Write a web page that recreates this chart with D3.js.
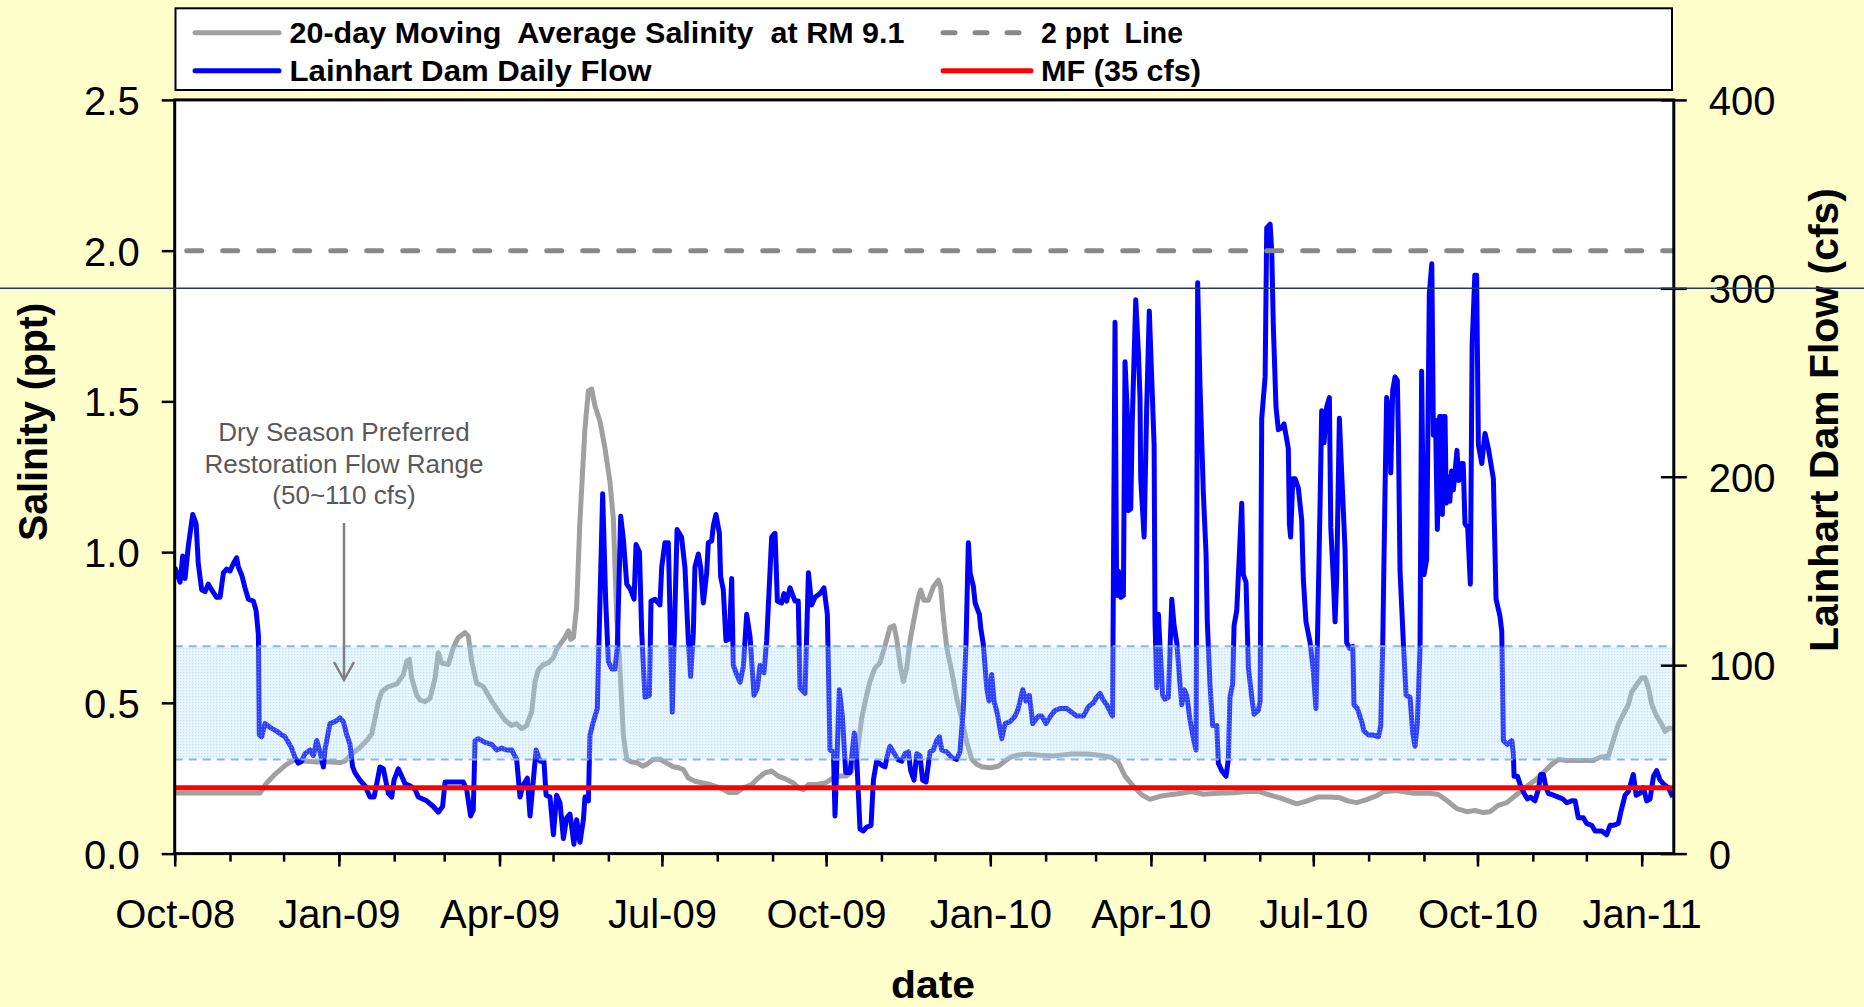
<!DOCTYPE html>
<html><head><meta charset="utf-8">
<script src="https://cdn.jsdelivr.net/npm/d3@7"></script>
<style>
html,body{margin:0;padding:0;background:#FFFFCC;}
svg{display:block;}
text{font-family:"Liberation Sans",Arial,Helvetica,sans-serif;}
</style></head><body>
<svg id="chart" width="1864" height="1007"></svg>
<script>
// ---------------- data (days counted from 1 Oct 2008) ----------------
const flowDays = [0,3,4.5,5.8,7.6,10.1,12,13.2,15.1,17,18.8,20.7,23.5,25.4,27.3,29.1,31,32.9,34.7,35.7,37.5,39.4,41.3,44.1,45.6,46.9,47.4,48.7,50.6,53.4,57.1,60,61.8,63.7,65.5,67.4,69.3,71.1,73,75.8,77.7,79.6,81.4,83.3,84.2,87,89.8,92.6,94.5,96.4,98.2,99.7,101,103.8,106.6,109.4,111.7,113.2,115,116.9,119.7,121.6,122.9,125.3,127.2,129.1,131.9,134.7,136.5,141.2,144.9,147.7,150.1,151.5,156.1,161.7,163.6,165.8,167.3,168.3,170.1,173.9,177.6,180.4,183.2,186,188.8,191.6,193.5,195,197.6,199.1,202.5,204.7,206.9,208.1,210.3,212.2,214,215.9,217.8,219.6,221.5,223.7,225.2,227.1,229,229.9,231.8,232.7,234.6,236.8,238.3,239.8,241.5,243,244.9,246.7,248,249.9,251.4,253.3,255.5,257.4,258.5,260.4,261.7,263.5,266,266.9,269.1,271.9,272.9,274.7,276.6,278.8,281.5,284,285.9,287.8,289.1,290.6,291.5,293.4,294.7,296.2,298.1,299,300.9,301.8,303.3,305.2,305.9,307.4,308.9,310.8,312.1,313,314.9,316.8,318.6,320.5,322.4,324.6,326.5,328,330.2,331.7,334.5,336.4,337.7,340.1,341.4,342.9,344.8,347.6,349.4,350.4,353.2,355.1,356.9,358.8,361.6,363.8,365.7,367.2,369.1,370,372.4,374.1,376,378.4,380.8,382.1,384,385.9,387.7,390.2,391.5,393.3,396.1,398,399.3,400.8,402.7,405.1,407.4,409.2,411.1,412.4,414.3,415.8,417.6,419.1,421,423.2,425.1,427,428.5,429.8,432.6,435.4,438.2,440,441.9,443.4,444.7,445.7,447.5,448.5,450.9,451.6,453.1,455,456.3,457.8,459.1,461,463.4,465.3,468.1,470.9,472.7,475.2,477,478.9,480.8,484,485.8,488.2,490.8,493.3,496.1,499.8,502.6,505.4,509.2,512,514.8,516.6,518.5,520,522.2,525.5,526.9,527.8,528.8,530.1,531.6,532.5,533.8,534.4,535.7,536.6,538.5,540,540.9,541.3,543.2,544.6,546.1,547.5,548.8,549.3,550.3,551.2,552.1,553.6,554.9,556.8,558.7,560,561.5,563.3,564.3,565.6,567.1,568.9,570.8,572.3,573.2,574.5,576.4,577.9,578.6,580.1,581.6,583.9,584.8,586.7,589.1,590.4,591.3,592.8,593.6,595.1,597.9,598.8,600.3,601.6,603.5,604.8,607.2,608.2,609.1,611,611.9,613.8,614.7,615.6,617.1,618.4,620.3,621.6,622.7,624,624.6,625.3,626.5,627.8,629.6,631.5,632.4,633.9,636.2,638,639.5,640.3,641.8,642.7,644,645.5,647,647.8,649.2,650.2,651.1,652.6,653.9,655.8,656.7,658.2,660.1,660.8,662.7,665.1,666.4,668.9,671.3,674.5,675.8,676.9,678.2,679.1,680.6,681.4,682.5,683.8,685.1,685.7,686.6,688.5,690,692.2,693.7,695,696.3,697.8,698.7,700,701.5,703,704.4,705.3,706.5,707.5,708.8,709.5,710.3,711,711.8,712.5,713.5,714.5,715.5,716.5,718.5,719.5,721,722,723,724.5,726,727,728.5,729.5,730.5,732.4,734.2,736.1,738.9,740.4,742.6,743.6,744.5,746.8,749.2,750.1,750.5,752.4,753.8,756.1,758,759.8,762.2,764.1,765.4,766.9,768.4,769.7,772.5,775.3,777.8,780,782.8,784.7,786.5,789.3,791.2,794,795.9,799.6,802.4,804.3,806.2,808.9,810.3,812.7,814.6,817.3,818.9,821.1,823,824.8,826.7,828.6,830.4,832.3,834.2,837,839.4];
const flowCfs = [152,144,158,146,163,180,175,154,140,139,143,140,136,136,149,151,150,154,157,152,148,141,135,134,129,116,63,62,69,67,65,63,62,59,56,51,48,49,53,55,52,60,54,46,55,69,70,72,70,63,58,46,43,39,36,30,30,37,46,45,32,30,39,45,41,37,36,34,30,28,25,22,25,38,38,38,34,20,23,60,61,59,58,55,56,55,55,50,30,36,40,20,55,49,49,31,30,10,31,27,8,19,21,5,18,6,18,30,28,63,70,77,134,191,134,102,98,98,109,179,167,143,140,135,164,160,117,83,84,134,135,132,152,165,165,75,172,168,152,113,94,117,152,159,152,133,149,165,166,174,180,170,147,140,113,114,146,100,95,91,99,127,115,84,88,100,96,113,168,170,134,133,138,134,141,134,134,88,85,149,132,136,138,141,127,55,54,20,87,73,43,43,64,52,13,12,14,15,39,49,47,46,52,57,54,50,49,53,54,44,39,53,52,39,38,54,55,60,62,55,54,51,50,54,77,111,165,149,142,133,127,120,111,88,81,95,81,74,61,69,70,73,77,87,81,84,69,73,73,69,73,76,77,77,75,73,73,78,80,83,85,82,79,73,282,137,150,136,137,261,233,182,183,231,294,266,242,199,168,235,288,251,217,123,88,127,110,84,82,83,135,121,112,90,79,87,84,71,61,55,303,249,191,159,123,90,68,68,48,44,41,50,83,90,121,129,186,148,144,99,83,74,76,81,231,253,332,334,320,280,237,225,226,228,222,215,175,168,199,199,194,177,146,123,112,97,77,112,186,235,218,237,242,173,146,123,146,231,202,161,112,109,110,79,77,70,65,63,63,62,68,111,193,242,235,202,246,253,251,220,150,111,84,83,64,57,69,109,256,148,156,297,313,222,230,172,232,232,180,232,232,186,200,187,203,193,214,198,207,207,175,173,143,270,307,307,217,207,223,215,199,135,126,118,60,58,60,53,41,41,37,32,29,30,28,34,42,42,35,32,31,30,29,27,28,28,19,19,16,15,12,12,10,15,15,16,22,31,33,42,31,32,35,28,29,41,44,39,37,35,30];

const salDays = [0,47.8,51.5,57.1,62.7,67.4,72.1,79.6,87,92.6,95.4,99.2,103.8,107.6,110.4,112.2,114.1,116,119.7,124.4,128.1,130,131.5,132.8,135.6,137.5,140.3,143.1,145.9,147.7,149.6,153.3,156.1,158.9,162.7,164.5,166.4,169.2,172.9,176.7,180.4,185.1,188.8,191.6,194.4,197.2,200,201.9,203.8,206.6,209.4,212.2,214,215.9,218.7,220.6,221.9,223.4,225.2,227.1,229.9,231.8,233.6,235.5,238.3,241.1,243.9,245.8,247.7,249.5,251.4,253.3,256.1,258.9,262.2,264.5,268.2,271.9,275.7,279.4,282.2,285,287.8,291.5,296.2,300,305.6,310.2,314.9,318.6,323.3,327,330.8,334.5,338.2,342.9,346.7,349.4,352.3,355.1,359.7,364.4,369,372.8,376.5,379.3,382.1,384.9,387.7,389.6,392.4,395.2,398,400.8,403,404.6,406.4,408.3,410.2,412,414.8,416.7,418,419.9,422.3,425.1,427.9,429.2,430.7,432.6,435.4,438.2,441,443.8,446.6,449.4,452.2,456.9,461.5,465.3,468.1,471.8,477.4,484.9,492.3,501.7,511,518.5,525,528.8,532.5,537.2,541.8,546.5,552.1,557.7,564.3,569.9,576.4,583.9,593.2,600.7,607.2,611.9,619.4,628.7,634.3,640.8,647.4,653,657.7,662.3,667.9,673.5,677.3,684.7,694.1,703.4,708.1,712.8,718.4,724,728.6,733.3,737,741.7,746.4,752,757.6,762.3,766.9,771.6,775.3,780,787.5,795,798.7,803.3,806.1,808.9,811.8,814.6,816.4,819.2,822,823.9,825.8,827.6,830.4,833.2,835.1,837,839.4];
const salPpt = [0.201,0.201,0.234,0.268,0.296,0.311,0.307,0.304,0.304,0.302,0.307,0.33,0.352,0.375,0.397,0.447,0.503,0.537,0.554,0.562,0.593,0.638,0.644,0.582,0.526,0.509,0.504,0.515,0.582,0.666,0.632,0.627,0.683,0.717,0.733,0.722,0.638,0.565,0.554,0.515,0.481,0.442,0.425,0.431,0.414,0.425,0.47,0.571,0.61,0.627,0.633,0.65,0.677,0.694,0.717,0.739,0.711,0.717,0.817,1.109,1.412,1.535,1.541,1.485,1.434,1.344,1.232,1.109,0.784,0.616,0.391,0.313,0.304,0.302,0.29,0.296,0.313,0.313,0.3,0.288,0.285,0.279,0.251,0.24,0.234,0.229,0.218,0.203,0.203,0.218,0.229,0.251,0.268,0.274,0.257,0.246,0.234,0.218,0.212,0.229,0.229,0.234,0.251,0.257,0.257,0.274,0.319,0.447,0.526,0.571,0.616,0.633,0.689,0.75,0.756,0.711,0.627,0.571,0.616,0.705,0.795,0.851,0.874,0.84,0.84,0.885,0.907,0.885,0.784,0.683,0.604,0.515,0.447,0.369,0.313,0.296,0.288,0.285,0.29,0.307,0.319,0.326,0.33,0.326,0.324,0.33,0.33,0.326,0.319,0.302,0.257,0.223,0.195,0.18,0.19,0.195,0.2,0.206,0.197,0.2,0.202,0.206,0.206,0.197,0.185,0.165,0.174,0.188,0.188,0.185,0.174,0.169,0.179,0.192,0.205,0.209,0.2,0.2,0.196,0.176,0.149,0.139,0.143,0.136,0.139,0.16,0.169,0.196,0.223,0.243,0.269,0.296,0.312,0.309,0.309,0.309,0.32,0.323,0.376,0.429,0.463,0.496,0.536,0.56,0.583,0.583,0.549,0.496,0.456,0.429,0.405,0.416,0.416];

const xTickLabels = ["Oct-08","Jan-09","Apr-09","Jul-09","Oct-09","Jan-10","Apr-10","Jul-10","Oct-10","Jan-11"];
const salTicks = [0,0.5,1.0,1.5,2.0,2.5];
const flowTicks = [0,100,200,300,400];
const mfFlow = 35;          // minimum flow, cfs
const bandFlow = [50,110];  // preferred restoration flow range, cfs
const limitPpt = 2;         // 2 ppt line
const refLineFlow = 300;    // thin reference line
const legendLabels = ["20-day Moving  Average Salinity  at RM 9.1","Lainhart Dam Daily Flow","2 ppt  Line","MF (35 cfs)"];
const noteLines = ["Dry Season Preferred","Restoration Flow Range","(50~110 cfs)"];

// ---------------- layout ----------------
const W = 1864, H = 1007;
const L = 174.7, R = 1673.8, T = 99.9, B = 853.6;
const t0 = Date.UTC(2008, 9, 1), DAY = 864e5, endDay = 840;
const toDate = d => new Date(t0 + d * DAY);

const svg = d3.select("#chart");
svg.append("rect").attr("width", W).attr("height", H).attr("fill", "#FFFFCC");

const defs = svg.append("defs");
const pat = defs.append("pattern").attr("id", "dots").attr("patternUnits", "userSpaceOnUse")
  .attr("width", 3).attr("height", 3);
pat.append("rect").attr("width", 3).attr("height", 3).attr("fill", "#A8DCFF").attr("fill-opacity", 0.28);
pat.append("rect").attr("width", 1.2).attr("height", 1.2).attr("fill", "#9CCBF2").attr("fill-opacity", 0.45);

const x = d3.scaleUtc().domain([toDate(0), toDate(endDay)]).range([L, R]);
const ySal = d3.scaleLinear().domain([0, 2.5]).range([B, T]);
const yFlow = d3.scaleLinear().domain([0, 400]).range([B, T]);

// plot background
svg.append("rect").attr("x", L).attr("y", T).attr("width", R - L).attr("height", B - T).attr("fill", "#FFFFFF");

const plot = svg.append("g");
defs.append("clipPath").attr("id", "clip").append("rect").attr("x", L).attr("y", T - 10).attr("width", R - L).attr("height", B - T + 10);
const g = plot.append("g").attr("clip-path", "url(#clip)");

// salinity line
const salData = salDays.map((d, i) => [toDate(d), salPpt[i]]);
g.append("path").datum(salData)
  .attr("d", d3.line().x(d => x(d[0])).y(d => ySal(d[1])))
  .attr("fill", "none").attr("stroke", "#A0A0A0").attr("stroke-width", 5).attr("stroke-linejoin", "round");

// flow line
const flowData = flowDays.map((d, i) => [toDate(d), flowCfs[i]]);
g.append("path").datum(flowData)
  .attr("d", d3.line().x(d => x(d[0])).y(d => yFlow(d[1])))
  .attr("fill", "none").attr("stroke", "#0000FF").attr("stroke-width", 5).attr("stroke-linejoin", "round");

// MF line
g.append("line").attr("x1", L).attr("x2", R).attr("y1", yFlow(mfFlow)).attr("y2", yFlow(mfFlow))
  .attr("stroke", "#FF0000").attr("stroke-width", 5);

// 2 ppt line
g.append("line").attr("x1", L + 12).attr("x2", R).attr("y1", ySal(limitPpt)).attr("y2", ySal(limitPpt))
  .attr("stroke", "#888888").attr("stroke-width", 5).attr("stroke-dasharray", "15,21").attr("stroke-linecap", "round");

// restoration band (overlay)
g.append("rect").attr("x", L).attr("width", R - L)
  .attr("y", yFlow(bandFlow[1])).attr("height", yFlow(bandFlow[0]) - yFlow(bandFlow[1]))
  .attr("fill", "url(#dots)");
bandFlow.forEach(v => {
  g.append("line").attr("x1", L).attr("x2", R).attr("y1", yFlow(v)).attr("y2", yFlow(v))
    .attr("stroke", "#8DB4E2").attr("stroke-width", 2).attr("stroke-dasharray", "8,6");
});

// annotation
const note = svg.append("g").attr("fill", "#595959").attr("font-size", 26).attr("text-anchor", "middle");
noteLines.forEach((t, i) => note.append("text").attr("x", 344).attr("y", 441 + i * 31.5).text(t));
svg.append("line").attr("x1", 344).attr("x2", 344).attr("y1", 523).attr("y2", 679)
  .attr("stroke", "#808080").attr("stroke-width", 2.5);
svg.append("path").attr("d", "M334,662 L344,680 L354,662").attr("fill", "none")
  .attr("stroke", "#808080").attr("stroke-width", 2.5);

// ---------------- axes ----------------
const fmt1 = d3.format(".1f");
const axL = svg.append("g").attr("transform", `translate(${L},0)`)
  .call(d3.axisLeft(ySal).tickValues(salTicks).tickFormat(fmt1).tickSize(13).tickPadding(22));
const axR = svg.append("g").attr("transform", `translate(${R},0)`)
  .call(d3.axisRight(yFlow).tickValues(flowTicks).tickFormat(d3.format("d")).tickSize(13).tickPadding(22));
axR.selectAll(".tick line").attr("x1", -13);

const parseLbl = d3.utcParse("%b-%y");
const majorDates = xTickLabels.map(s => parseLbl(s));
const minorDates = d3.utcMonth.range(toDate(0), toDate(endDay + 1));
const axBminor = svg.append("g").attr("transform", `translate(0,${B})`)
  .call(d3.axisBottom(x).tickValues(minorDates).tickFormat("").tickSize(8));
const axB = svg.append("g").attr("transform", `translate(0,${B})`)
  .call(d3.axisBottom(x).tickValues(majorDates).tickFormat((d, i) => xTickLabels[i]).tickSize(13));
axB.selectAll(".tick text").attr("y", 74).attr("dy", 0);

[axL, axR, axB, axBminor].forEach(a => {
  a.selectAll(".domain").remove();
  a.selectAll(".tick line").attr("stroke", "#000").attr("stroke-width", 2.5);
  a.selectAll(".tick text").attr("fill", "#000").attr("font-size", 40)
    .attr("font-family", '"Liberation Sans",Arial,sans-serif');
});
axL.selectAll(".tick text").attr("dy", "0.36em");
axR.selectAll(".tick text").attr("dy", "0.36em");

// plot frame
svg.append("rect").attr("x", L).attr("y", T).attr("width", R - L).attr("height", B - T)
  .attr("fill", "none").attr("stroke", "#000").attr("stroke-width", 3);

// axis titles
svg.append("text").attr("transform", `translate(47,422) rotate(-90)`).attr("text-anchor", "middle")
  .attr("font-size", 40).attr("font-weight", "bold").attr("textLength", 238).attr("lengthAdjust", "spacingAndGlyphs")
  .text("Salinity (ppt)");
svg.append("text").attr("transform", `translate(1838,420) rotate(-90)`).attr("text-anchor", "middle")
  .attr("font-size", 40).attr("font-weight", "bold").attr("textLength", 464).attr("lengthAdjust", "spacingAndGlyphs")
  .text("Lainhart Dam Flow (cfs)");
svg.append("text").attr("x", 933).attr("y", 998).attr("text-anchor", "middle")
  .attr("font-size", 38).attr("font-weight", "bold").attr("textLength", 84).attr("lengthAdjust", "spacingAndGlyphs")
  .text("date");

// ---------------- legend ----------------
const lg = svg.append("g");
lg.append("rect").attr("x", 175.5).attr("y", 8.3).attr("width", 1672 - 175.5).attr("height", 90 - 8.3)
  .attr("fill", "#FFFFFF").attr("stroke", "#000").attr("stroke-width", 2);
const legendItems = [
  {x1: 195, x2: 279, xt: 289.5, y: 32.7, w: 615, stroke: "#A0A0A0", dash: null, label: legendLabels[0]},
  {x1: 195, x2: 279, xt: 289.5, y: 70.7, w: 362, stroke: "#0000FF", dash: null, label: legendLabels[1]},
  {x1: 943, x2: 1031, xt: 1041, y: 32.7, w: 142, stroke: "#888888", dash: "12,20", label: legendLabels[2]},
  {x1: 943, x2: 1031, xt: 1041, y: 70.7, w: 160, stroke: "#FF0000", dash: null, label: legendLabels[3]}
];
legendItems.forEach(it => {
  const ln = lg.append("line").attr("x1", it.x1).attr("x2", it.x2).attr("y1", it.y).attr("y2", it.y)
    .attr("stroke", it.stroke).attr("stroke-width", 5).attr("stroke-linecap", "round");
  if (it.dash) ln.attr("stroke-dasharray", it.dash);
  lg.append("text").attr("x", it.xt).attr("y", it.y + 10.5).attr("font-size", 29).attr("font-weight", "bold")
    .attr("textLength", it.w).attr("lengthAdjust", "spacingAndGlyphs").style("white-space", "pre")
    .text(it.label);
});

// thin reference line across the page at 300 cfs
svg.append("line").attr("x1", 0).attr("x2", W).attr("y1", yFlow(refLineFlow)).attr("y2", yFlow(refLineFlow))
  .attr("stroke", "#1F3864").attr("stroke-width", 1.5);
</script>
</body></html>
